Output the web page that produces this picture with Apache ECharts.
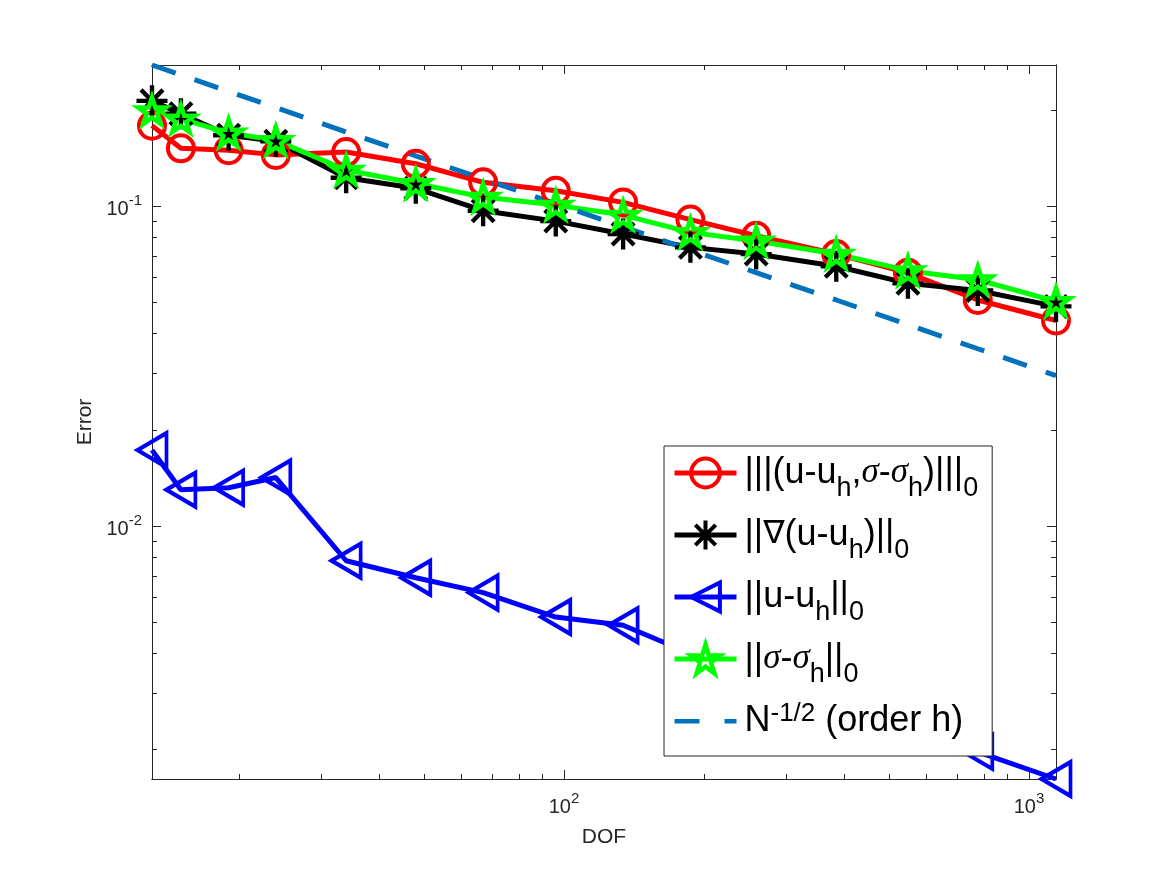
<!DOCTYPE html>
<html>
<head>
	<meta charset="utf-8">
	<title>Error vs DOF</title>
	<script src="https://cdn.jsdelivr.net/npm/echarts@6/dist/echarts.min.js"></script>
	<style type="text/css">
		html,body{
			margin: 0;
			padding: 0;
			background: #fff;
		}
		#main{
			width: 1167px;
			height: 875px;
		}
	</style>
</head>
<body>
<div id="main"></div>
<script>
    // x: degrees of freedom
    var dof = [13, 15, 19, 24, 34, 48, 67, 96, 134, 187, 259, 385, 549, 776, 1143];
    // |||(u-u_h, sigma-sigma_h)|||_0
    var errEnergy = [0.179, 0.152, 0.150, 0.145, 0.148, 0.136, 0.119, 0.112, 0.103, 0.091, 0.081, 0.071, 0.062, 0.051, 0.044];
    // ||grad(u-u_h)||_0
    var errGrad = [0.214, 0.195, 0.167, 0.160, 0.123, 0.114, 0.097, 0.090, 0.082, 0.0745, 0.071, 0.065, 0.0575, 0.0546, 0.0487];
    // ||u-u_h||_0
    var errL2 = [0.0173, 0.0130, 0.0132, 0.0142, 0.0078, 0.0069, 0.0062, 0.0052, 0.0049, 0.0040, 0.0033, 0.0027, 0.0023, 0.00197, 0.00162];
    // ||sigma-sigma_h||_0
    var errSigma = [0.1995, 0.188, 0.170, 0.161, 0.130, 0.118, 0.107, 0.101, 0.094, 0.083, 0.078, 0.071, 0.063, 0.059, 0.0505];
    // reference N^-1/2
    var refLine = [0.277, 0.258, 0.229, 0.204, 0.171, 0.144, 0.122, 0.102, 0.0864, 0.0731, 0.0621, 0.0510, 0.0427, 0.0359, 0.0296];

    // ticks
    var xMajor = [100, 1000];
    var xMinor = [20, 30, 40, 50, 60, 70, 80, 90, 200, 300, 400, 500, 600, 700, 800, 900];
    var yMajor = [0.01, 0.1];
    var yMinor = [0.002, 0.003, 0.004, 0.005, 0.006, 0.007, 0.008, 0.009,
                  0.02, 0.03, 0.04, 0.05, 0.06, 0.07, 0.08, 0.09, 0.2];

    var xMin = dof[0], xMax = dof[dof.length - 1];
    var yMin = errL2[errL2.length - 1], yMax = refLine[0];

    var axisColor = '#262626';
    var font = 'Liberation Sans';

    function pairs(ys) {
        var out = [];
        for (var i = 0; i < dof.length; i++) {
            out.push([dof[i], ys[i]]);
        }
        return out;
    }

    function powLabel(v) {
        var e = Math.round(Math.log(v) / Math.LN10);
        return '{b|10}{s|' + e + '}';
    }

    var labelRich = {
        b: {fontSize: 20, lineHeight: 26, verticalAlign: 'bottom', fontFamily: font, color: axisColor},
        s: {fontSize: 15, lineHeight: 15, verticalAlign: 'top', fontFamily: font, color: axisColor}
    };

    // one log axis; several of them are stacked to get major/minor ticks on every side
    function logAxis(pos, lo, hi, ticks, len, labels) {
        var ax = {
            type: 'log',
            logBase: 10,
            position: pos,
            min: lo,
            max: hi,
            splitLine: {show: false},
            axisLine: {show: true, onZero: false, lineStyle: {color: axisColor, width: 1}},
            axisTick: {show: true, inside: true, length: len, customValues: ticks, lineStyle: {color: axisColor, width: 1}},
            axisLabel: {show: false}
        };
        if (labels) {
            ax.axisLabel = {
                show: true,
                customValues: ticks,
                margin: pos === 'left' ? 10 : 12,
                fontSize: 20,
                fontFamily: font,
                color: axisColor,
                formatter: powLabel,
                rich: labelRich
            };
        }
        return ax;
    }

    var xAxes = [
        logAxis('bottom', xMin, xMax, xMajor, 9, true),
        logAxis('bottom', xMin, xMax, xMinor, 5, false),
        logAxis('top', xMin, xMax, xMajor, 9, false),
        logAxis('top', xMin, xMax, xMinor, 5, false)
    ];
    xAxes[0].name = 'DOF';
    xAxes[0].nameLocation = 'middle';
    xAxes[0].nameGap = 48;
    xAxes[0].nameTextStyle = {fontSize: 21, color: axisColor, fontFamily: font};

    var yAxes = [
        logAxis('left', yMin, yMax, yMajor, 9, true),
        logAxis('left', yMin, yMax, yMinor, 5, false),
        logAxis('right', yMin, yMax, yMajor, 9, false),
        logAxis('right', yMin, yMax, yMinor, 5, false)
    ];
    yAxes[0].name = 'Error';
    yAxes[0].nameLocation = 'middle';
    yAxes[0].nameGap = 52;
    yAxes[0].nameTextStyle = {fontSize: 21, color: axisColor, fontFamily: font};

    // marker shapes
    var asterisk = 'path://M0 43L100 43L100 57L0 57Z M43 0L57 0L57 100L43 100Z ' +
        'M19.6 9.7L90.3 80.4L80.4 90.3L9.7 19.6Z M90.3 19.6L19.6 90.3L9.7 80.4L80.4 9.7Z';
    var star = 'path://M50 0L61.23 34.55L97.55 34.55L68.17 55.9L79.39 90.45L50 69.1L20.61 90.45L31.83 55.9L2.45 34.55L38.77 34.55Z';
    var dashIcon = 'path://M0 0Z M62 36Z M0 16L25 16L25 20.5L0 20.5Z M50 16L62 16L62 20.5L50 20.5Z';

    var legendText = {
        energy: '|||(u-u{sub|h},{sig|σ}-{sig|σ}{sub|h})|||{sub|0}',
        grad: '||{nab|∇}(u-u{sub|h})||{sub|0}',
        l2: '||u-u{sub|h}||{sub|0}',
        sigma: '||{sig|σ}-{sig|σ}{sub|h}||{sub|0}',
        ref: 'N{sup|-1/2} (order h)'
    };

    var myChart = echarts.init(document.getElementById('main'));
    var option = {
        animation: false,
        backgroundColor: '#fff',
        textStyle: {fontFamily: font},
        grid: {left: 152, right: 111, top: 65, bottom: 96, containLabel: false},
        xAxis: xAxes,
        yAxis: yAxes,
        legend: {
            orient: 'vertical',
            left: 664,
            top: 446,
            padding: [7, 14, 15, 8],
            itemGap: 13,
            itemWidth: 62,
            itemHeight: 36,
            selectedMode: false,
            backgroundColor: '#fff',
            borderColor: axisColor,
            borderWidth: 1,
            lineStyle: {width: 5},
            data: [
                {name: 'energy', itemStyle: {borderWidth: 4}},
                {name: 'grad', itemStyle: {borderWidth: 0}},
                {name: 'l2', itemStyle: {borderWidth: 4}},
                {name: 'sigma', itemStyle: {borderWidth: 4.5}},
                {name: 'ref', icon: dashIcon, itemStyle: {color: '#0072BD', borderWidth: 0}}
            ],
            formatter: function (name) {
                return legendText[name];
            },
            textStyle: {
                fontSize: 36,
                lineHeight: 40,
                color: '#000',
                fontFamily: font,
                padding: [0, 0, 0, 3],
                rich: {
                    sub: {fontSize: 27, lineHeight: 27, verticalAlign: 'top', padding: [22, 0, 0, 0], fontFamily: font, color: '#000'},
                    sup: {fontSize: 26, lineHeight: 26, verticalAlign: 'top', fontFamily: font, color: '#000'},
                    sig: {fontSize: 35, lineHeight: 30, fontFamily: 'Liberation Serif', fontStyle: 'italic', color: '#000'},
                    nab: {fontSize: 32, lineHeight: 32, fontFamily: 'DejaVu Sans', color: '#000'}
                }
            }
        },
        series: [
            {
                name: 'energy',
                type: 'line',
                clip: false,
                data: pairs(errEnergy),
                symbol: 'circle',
                symbolSize: 26,
                lineStyle: {color: '#ff0000', width: 5},
                itemStyle: {color: 'rgba(0,0,0,0)', borderColor: '#ff0000', borderWidth: 4}
            },
            {
                name: 'grad',
                type: 'line',
                clip: false,
                data: pairs(errGrad),
                symbol: asterisk,
                symbolSize: 31,
                lineStyle: {color: '#000000', width: 5},
                itemStyle: {color: '#000000', borderWidth: 0}
            },
            {
                name: 'l2',
                type: 'line',
                clip: false,
                data: pairs(errL2),
                symbol: 'triangle',
                symbolRotate: 90,
                symbolSize: [34, 29],
                lineStyle: {color: '#0000ff', width: 5},
                itemStyle: {color: 'rgba(0,0,0,0)', borderColor: '#0000ff', borderWidth: 4}
            },
            {
                name: 'sigma',
                type: 'line',
                clip: false,
                data: pairs(errSigma),
                symbol: star,
                symbolKeepAspect: true,
                symbolSize: 28,
                lineStyle: {color: '#00ff00', width: 5},
                itemStyle: {color: 'rgba(0,0,0,0)', borderColor: '#00ff00', borderWidth: 4.5}
            },
            {
                name: 'ref',
                type: 'line',
                clip: false,
                data: pairs(refLine),
                symbol: 'none',
                lineStyle: {color: '#0072BD', width: 5, type: [25, 20]},
                itemStyle: {color: '#0072BD', borderWidth: 0}
            }
        ]
    };
    myChart.setOption(option);
</script>
</body>
</html>
